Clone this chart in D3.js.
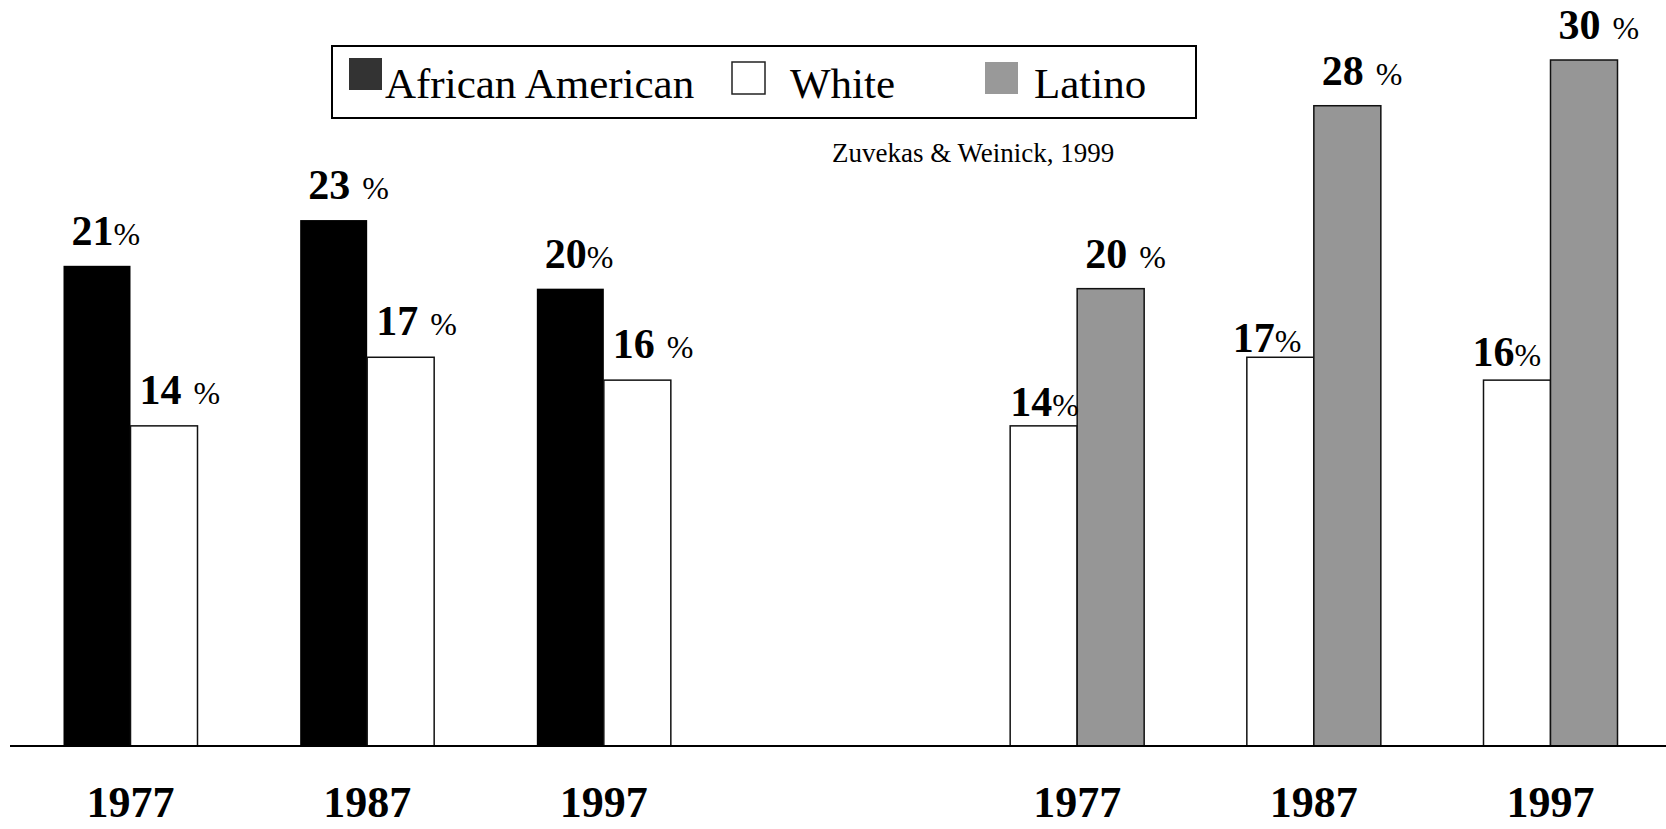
<!DOCTYPE html>
<html>
<head>
<meta charset="utf-8">
<script src="https://cdn.jsdelivr.net/npm/d3@7"></script>
<style>
	html, body { margin: 0; padding: 0; background: #ffffff; }
	svg { display: block; }
	text { font-family: "Liberation Serif", "Times New Roman", serif; fill: #000; white-space: pre; }
</style>
</head>
<body>
<div id="chart"></div>
<script>
// Chart data
const years = ["1977", "1987", "1997"];
const africanAmerican = [21, 23, 20];
const whiteVsAfricanAmerican = [14, 17, 16];
const whiteVsLatino = [14, 17, 16];
const latino = [20, 28, 30];

// the "%" sign sits tight or with a space, as on the original slide
const aaSuffix = ["%", " %", "%"];
const whiteLeftSuffix = [" %", " %", " %"];
const whiteRightSuffix = ["%", "%", "%"];
const latinoSuffix = [" %", " %", " %"];

const legendNames = ["African American", "White", "Latino"];
const citation = "Zuvekas & Weinick, 1999";

function drawChart() {
	const width = 1666;
	const height = 829;

	const svg = d3
		.select("#chart")
		.append("svg")
		.attr("width", width)
		.attr("height", height)
		.attr("viewBox", [0, 0, width, height]);

	// Scales: three year groups, an empty slot, three more year groups
	const slots = years.map((y) => "L" + y).concat(["gap"], years.map((y) => "R" + y));
	const x = d3.scalePoint().domain(slots).range([130.5, 1550.5]);
	const side = d3.scaleBand().domain(["left", "right"]).range([-67, 67]);
	const y = d3.scaleLinear().domain([0, 30]).range([746, 60]);

	const fills = { aa: "#000000", white: "#ffffff", latino: "#969696" };

	// label offsets: dx from bar's left edge, dy above bar top
	const bars = [];
	years.forEach((yr, i) => {
		bars.push({ slot: "L" + yr, pos: "left", series: "aa", value: africanAmerican[i], suffix: aaSuffix[i], dx: 8, dy: 21 });
		bars.push({ slot: "L" + yr, pos: "right", series: "white", value: whiteVsAfricanAmerican[i], suffix: whiteLeftSuffix[i], dx: 9, dy: 22 });
	});
	const rightWhiteDx = [0, -14, -11];
	const rightWhiteDy = [10, 5, 14];
	years.forEach((yr, i) => {
		bars.push({ slot: "R" + yr, pos: "left", series: "white", value: whiteVsLatino[i], suffix: whiteRightSuffix[i], dx: rightWhiteDx[i], dy: rightWhiteDy[i] });
		bars.push({ slot: "R" + yr, pos: "right", series: "latino", value: latino[i], suffix: latinoSuffix[i], dx: 8, dy: 21 });
	});

	// Bars
	svg.append("g")
		.selectAll("rect")
		.data(bars)
		.join("rect")
		.attr("x", (d) => x(d.slot) + side(d.pos))
		.attr("y", (d) => y(d.value))
		.attr("width", side.bandwidth())
		.attr("height", (d) => y(0) - y(d.value))
		.attr("fill", (d) => fills[d.series])
		.attr("stroke", (d) => (d.series === "aa" ? "none" : "#111"))
		.attr("stroke-width", 1.5);

	// Value labels: bold number, lighter smaller "%"
	const labels = svg.append("g")
		.selectAll("text")
		.data(bars)
		.join("text")
		.attr("x", (d) => x(d.slot) + side(d.pos) + d.dx)
		.attr("y", (d) => y(d.value) - d.dy);
	labels.append("tspan")
		.attr("font-size", 42)
		.attr("font-weight", "bold")
		.text((d) => d.value);
	labels.append("tspan")
		.attr("font-size", 32)
		.attr("dx", (d) => (d.suffix.startsWith(" ") ? 4 : 0))
		.text((d) => d.suffix);

	// Baseline
	svg.append("line")
		.attr("x1", 10)
		.attr("x2", width)
		.attr("y1", y(0))
		.attr("y2", y(0))
		.attr("stroke", "#000")
		.attr("stroke-width", 2);

	// Year labels under each group
	svg.append("g")
		.selectAll("text")
		.data(slots.filter((s) => s !== "gap"))
		.join("text")
		.attr("x", (d) => x(d))
		.attr("y", 817)
		.attr("text-anchor", "middle")
		.attr("font-size", 44)
		.attr("font-weight", "bold")
		.text((d) => d.slice(1));

	// Legend
	const legend = svg.append("g");
	legend.append("rect")
		.attr("x", 332)
		.attr("y", 46)
		.attr("width", 864)
		.attr("height", 72)
		.attr("fill", "#fff")
		.attr("stroke", "#000")
		.attr("stroke-width", 2);

	const legendItems = [
		{ name: legendNames[0], sx: 349, sy: 58, fill: "#333333", stroke: "none", tx: 385 },
		{ name: legendNames[1], sx: 732, sy: 62, fill: "#ffffff", stroke: "#222", tx: 790 },
		{ name: legendNames[2], sx: 985, sy: 62, fill: "#999999", stroke: "none", tx: 1034 },
	];
	legend.selectAll("rect.swatch")
		.data(legendItems)
		.join("rect")
		.attr("class", "swatch")
		.attr("x", (d) => d.sx)
		.attr("y", (d) => d.sy)
		.attr("width", 33)
		.attr("height", 32)
		.attr("fill", (d) => d.fill)
		.attr("stroke", (d) => d.stroke)
		.attr("stroke-width", 1.5);
	legend.selectAll("text")
		.data(legendItems)
		.join("text")
		.attr("x", (d) => d.tx)
		.attr("y", 98)
		.attr("font-size", 43)
		.text((d) => d.name);

	// Source note
	svg.append("text")
		.attr("x", 832)
		.attr("y", 162)
		.attr("font-size", 27)
		.text(citation);
}

document.addEventListener("DOMContentLoaded", drawChart);
</script>
</body>
</html>
